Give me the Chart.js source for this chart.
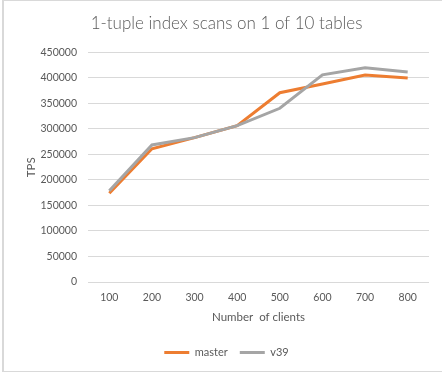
<!DOCTYPE html>
<html>
<head>
<meta charset="utf-8">
<script src="https://cdn.jsdelivr.net/npm/chart.js@4/dist/chart.umd.min.js"></script>
<style>
  html, body { margin: 0; padding: 0; background: #fff; }
  #wrap { width: 442px; height: 372px; position: relative; }
</style>
</head>
<body>
<div id="wrap"><canvas id="c" width="442" height="372"></canvas></div>
<script>
const chartTitle = '1-tuple index scans on 1 of 10 tables';
const categories = ['100', '200', '300', '400', '500', '600', '700', '800'];
const masterValues = [174000, 261000, 283000, 306500, 371000, 388000, 405500, 400000];
const v39Values = [179000, 268500, 283000, 306500, 340500, 406000, 420000, 411500];
const seriesNames = ['master', 'v39'];
const yTicks = [0, 50000, 100000, 150000, 200000, 250000, 300000, 350000, 400000, 450000];

const FONT = 'Lato, "Liberation Sans", sans-serif';
const TXT = '#595959';

const frame = {
  id: 'frame',
  beforeDraw(chart) {
    const ctx = chart.ctx;
    ctx.save();
    ctx.fillStyle = '#ffffff';
    ctx.fillRect(0, 0, chart.width, chart.height);
    ctx.fillStyle = '#d9d9d9';
    ctx.fillRect(2, 0, 2, chart.height);
    ctx.fillRect(2, 0, chart.width - 2, 1);
    ctx.fillRect(2, chart.height - 1, chart.width - 2, 1);
    ctx.restore();
  }
};

new Chart(document.getElementById('c'), {
  type: 'line',
  data: {
    labels: categories,
    datasets: [
      { label: seriesNames[0], data: masterValues, borderColor: '#ED7D31', backgroundColor: '#ED7D31',
        borderWidth: 3, pointRadius: 0, tension: 0, order: 1 },
      { label: seriesNames[1], data: v39Values, borderColor: '#A5A5A5', backgroundColor: '#A5A5A5',
        borderWidth: 3, pointRadius: 0, tension: 0, order: 0 }
    ]
  },
  options: {
    responsive: false,
    animation: false,
    devicePixelRatio: 1,
    layout: { padding: { left: 24, right: 13, top: 0, bottom: 4 } },
    plugins: {
      title: {
        display: true, text: chartTitle, color: TXT,
        font: { family: FONT, size: 17, weight: '300' },
        padding: { top: 13, bottom: 19 }
      },
      legend: {
        position: 'bottom',
        labels: {
          color: TXT, font: { family: FONT, size: 11 },
          boxWidth: 25, boxHeight: 3, padding: 12,
          generateLabels(chart) {
            return chart.data.datasets.map((ds, i) => ({
              text: ds.label, fillStyle: ds.borderColor, strokeStyle: ds.borderColor,
              lineWidth: 0, hidden: false, datasetIndex: i, fontColor: TXT
            }));
          }
        }
      },
      tooltip: { enabled: false }
    },
    scales: {
      x: {
        offset: true,
        grid: { display: false, drawTicks: false },
        border: { display: false },
        ticks: { color: TXT, font: { family: FONT, size: 10.5 }, padding: 9, maxRotation: 0 },
        title: { display: true, text: 'Number  of clients', color: TXT, font: { family: FONT, size: 11.5 }, padding: { top: 4, bottom: 11 } },
        afterFit(s) { s.height = 53; }
      },
      y: {
        min: 0, max: 450000,
        afterBuildTicks(s) { s.ticks = yTicks.map(v => ({ value: v })); },
        grid: { color: '#d9d9d9', lineWidth: 1, drawTicks: false },
        border: { display: false },
        ticks: { color: TXT, font: { family: FONT, size: 10.5 }, padding: 11, callback: v => String(v) },
        title: { display: true, text: 'TPS', color: TXT, font: { family: FONT, size: 11.5 }, padding: { top: 0, bottom: 0 } },
        afterFit(s) { s.width = 64; }
      }
    }
  },
  plugins: [frame]
});
</script>
</body>
</html>
